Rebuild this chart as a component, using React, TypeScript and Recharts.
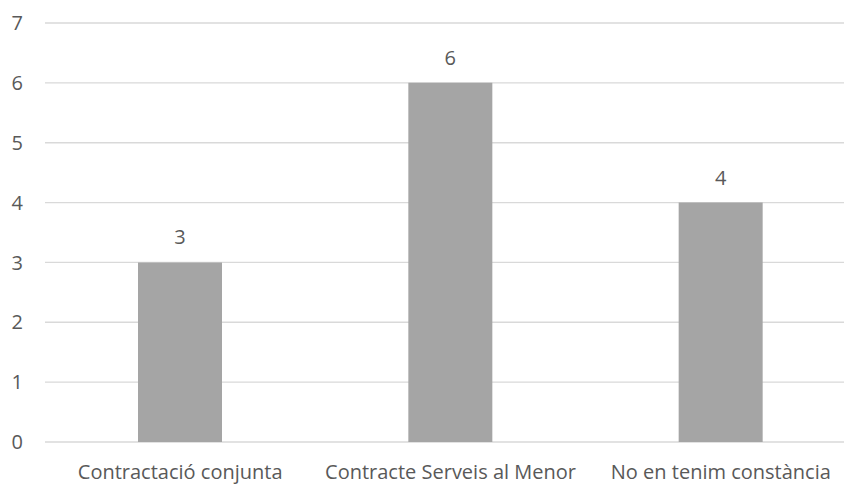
import { BarChart, Bar, XAxis, YAxis, CartesianGrid, LabelList } from 'recharts';

// Response counts per contracting type
const categories = ['Contractació conjunta', 'Contracte Serveis al Menor', 'No en tenim constància'];
const counts = [3, 6, 4];
const yTicks = [0, 1, 2, 3, 4, 5, 6, 7];

const data = categories.map((name, i) => ({ name, value: counts[i] }));

const textColor = '#595959';
const font = '"Open Sans", sans-serif';

export default function App() {
  return (
    <div
      style={{
        position: 'absolute',
        left: 0,
        top: 0,
        width: 844,
        height: 484,
        overflow: 'hidden',
        background: '#fff',
      }}
    >
      {/* plot area runs past the right edge, so the gridlines bleed off */}
      <BarChart
        width={844}
        height={484}
        data={data}
        margin={{ top: 23, right: -12, left: 0, bottom: 0 }}
        style={{ overflow: 'visible' }}
      >
        <CartesianGrid vertical={false} stroke="#d9d9d9" strokeWidth={1.33} />
        <XAxis
          dataKey="name"
          height={42}
          axisLine={false}
          tickLine={false}
          tickMargin={17}
          interval={0}
          tick={{ fill: textColor, fontSize: 20, fontFamily: font }}
        />
        <YAxis
          width={45}
          domain={[0, 7]}
          ticks={yTicks}
          axisLine={false}
          tickLine={false}
          tickMargin={16}
          tick={{ fill: textColor, fontSize: 20, fontFamily: font }}
        />
        <Bar dataKey="value" fill="#a5a5a5" barSize={84} isAnimationActive={false}>
          <LabelList
            dataKey="value"
            position="top"
            offset={18}
            fill={textColor}
            fontSize={20}
            fontFamily={font}
          />
        </Bar>
      </BarChart>
    </div>
  );
}
